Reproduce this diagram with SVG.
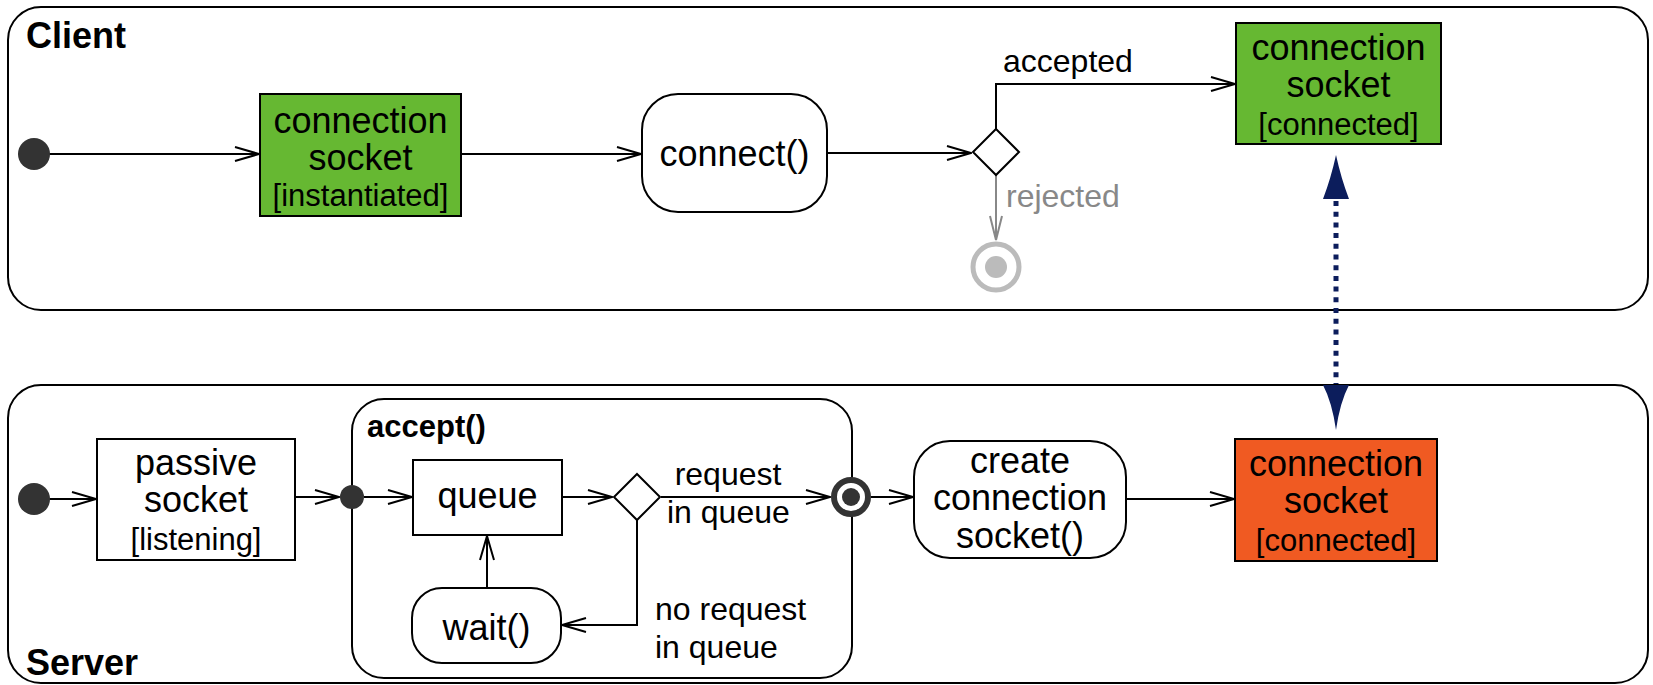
<svg xmlns="http://www.w3.org/2000/svg" width="1653" height="685" viewBox="0 0 1653 685">
<style>
.cont{fill:#fff;stroke:#000;stroke-width:2}
.box{stroke:#000;stroke-width:2}
.t{font-family:"Liberation Sans",Arial,sans-serif;font-size:36px;fill:#000;text-anchor:middle}
.s{font-family:"Liberation Sans",Arial,sans-serif;font-size:31px;fill:#000;text-anchor:middle}
.lbl{font-family:"Liberation Sans",Arial,sans-serif;font-size:32px;fill:#000}
.title{font-family:"Liberation Sans",Arial,sans-serif;font-size:36px;font-weight:bold;fill:#000}
.ln{fill:none;stroke:#000;stroke-width:2}
</style>
<defs>
<marker id="ah" viewBox="0 0 26 16" refX="25" refY="8" markerWidth="26" markerHeight="16" markerUnits="userSpaceOnUse" orient="auto">
<path d="M1,1 L25,8 L1,15" fill="none" stroke="#000" stroke-width="2"/>
</marker>
<marker id="ahg" viewBox="0 0 26 16" refX="25" refY="8" markerWidth="26" markerHeight="16" markerUnits="userSpaceOnUse" orient="auto">
<path d="M1,2 L25,8 L1,14" fill="none" stroke="#888" stroke-width="2"/>
</marker>
</defs>

<g id="client">
<rect class="cont" x="8" y="7" width="1640" height="303" rx="33"/>
<text class="title" x="26" y="48">Client</text>
</g>
<g id="server">
<rect class="cont" x="8" y="385" width="1640" height="298" rx="33"/>
<text class="title" x="26" y="675">Server</text>
</g>
<g id="accept">
<rect class="cont" x="352" y="399" width="500" height="279" rx="32"/>
<text class="title" x="367" y="437" style="font-size:31px">accept()</text>
</g>

<g id="connectors">
<line class="ln" x1="48" y1="154" x2="259" y2="154" marker-end="url(#ah)"/>
<line class="ln" x1="461" y1="154" x2="641" y2="154" marker-end="url(#ah)"/>
<line class="ln" x1="827" y1="153" x2="971" y2="153" marker-end="url(#ah)"/>
<polyline class="ln" points="996,129 996,84 1235,84" marker-end="url(#ah)"/>
<line x1="996" y1="175" x2="996" y2="240" stroke="#888" stroke-width="2" marker-end="url(#ahg)"/>
<text class="lbl" x="1003" y="72">accepted</text>
<text class="lbl" x="1006" y="207" style="fill:#888">rejected</text>

<line class="ln" x1="48" y1="499" x2="96" y2="499" marker-end="url(#ah)"/>
<line class="ln" x1="295" y1="497" x2="339" y2="497" marker-end="url(#ah)"/>
<line class="ln" x1="364" y1="497" x2="412" y2="497" marker-end="url(#ah)"/>
<line class="ln" x1="562" y1="497" x2="612" y2="497" marker-end="url(#ah)"/>
<line class="ln" x1="661" y1="497" x2="830" y2="497" marker-end="url(#ah)"/>
<polyline class="ln" points="637,520 637,625 562,625" marker-end="url(#ah)"/>
<line class="ln" x1="487" y1="588" x2="487" y2="536" marker-end="url(#ah)"/>
<line class="ln" x1="871" y1="497" x2="913" y2="497" marker-end="url(#ah)"/>
<line class="ln" x1="1126" y1="499" x2="1234" y2="499" marker-end="url(#ah)"/>
<text class="lbl" x="728" y="485" style="text-anchor:middle">request</text>
<text class="lbl" x="667" y="523">in queue</text>
<text class="lbl" x="655" y="620">no request</text>
<text class="lbl" x="655" y="658">in queue</text>

<line x1="1336" y1="201" x2="1336" y2="384" stroke="#0c1d5c" stroke-width="5" stroke-dasharray="5 5.7"/>
<path d="M1336,155 Q1331,178 1323,199 L1349,199 Q1341,178 1336,155 Z" fill="#0c1d5c"/>
<path d="M1336,430 Q1332,402 1323,385 L1349,385 Q1340,402 1336,430 Z" fill="#0c1d5c"/>
</g>

<g id="client-initial"><circle cx="34" cy="154" r="16" fill="#333"/></g>
<g id="socket-instantiated">
<rect class="box" x="260" y="94" width="201" height="122" fill="#66b832"/>
<text class="t" x="360.5" y="133">connection</text>
<text class="t" x="360.5" y="170">socket</text>
<text class="s" x="360.5" y="206">[instantiated]</text>
</g>
<g id="connect">
<rect class="box" x="642" y="94" width="185" height="118" rx="36" fill="#fff"/>
<text class="t" x="734.5" y="166">connect()</text>
</g>
<g id="decision1"><path d="M996,129 L1019,152 L996,175 L973,152 Z" fill="#fff" stroke="#000" stroke-width="2"/></g>
<g id="client-final">
<circle cx="996" cy="267" r="23" fill="none" stroke="#bbb" stroke-width="5"/>
<circle cx="996" cy="267" r="11" fill="#bbb"/>
</g>
<g id="socket-connected-client">
<rect class="box" x="1236" y="23" width="205" height="121" fill="#66b832"/>
<text class="t" x="1338.5" y="60">connection</text>
<text class="t" x="1338.5" y="97">socket</text>
<text class="s" x="1338.5" y="135">[connected]</text>
</g>

<g id="server-initial"><circle cx="34" cy="499" r="16" fill="#333"/></g>
<g id="passive-socket">
<rect class="box" x="97" y="439" width="198" height="121" fill="#fff"/>
<text class="t" x="196" y="475">passive</text>
<text class="t" x="196" y="512">socket</text>
<text class="s" x="196" y="550">[listening]</text>
</g>
<g id="entry"><circle cx="352" cy="497" r="12" fill="#333"/></g>
<g id="queue">
<rect class="box" x="413" y="460" width="149" height="75" fill="#fff"/>
<text class="t" x="487.5" y="508">queue</text>
</g>
<g id="wait">
<rect class="box" x="412" y="588" width="149" height="75" rx="30" fill="#fff"/>
<text class="t" x="486.5" y="640">wait()</text>
</g>
<g id="decision2"><path d="M637,474 L660,497 L637,520 L614,497 Z" fill="#fff" stroke="#000" stroke-width="2"/></g>
<g id="exit">
<circle cx="851" cy="497" r="17" fill="#fff" stroke="#333" stroke-width="6"/>
<circle cx="851" cy="497" r="9" fill="#333"/>
</g>
<g id="create-socket">
<rect class="box" x="914" y="441" width="212" height="117" rx="36" fill="#fff"/>
<text class="t" x="1020" y="473">create</text>
<text class="t" x="1020" y="510">connection</text>
<text class="t" x="1020" y="548">socket()</text>
</g>
<g id="socket-connected-server">
<rect class="box" x="1235" y="439" width="202" height="122" fill="#f05a22"/>
<text class="t" x="1336" y="476">connection</text>
<text class="t" x="1336" y="513">socket</text>
<text class="s" x="1336" y="551">[connected]</text>
</g>
</svg>
